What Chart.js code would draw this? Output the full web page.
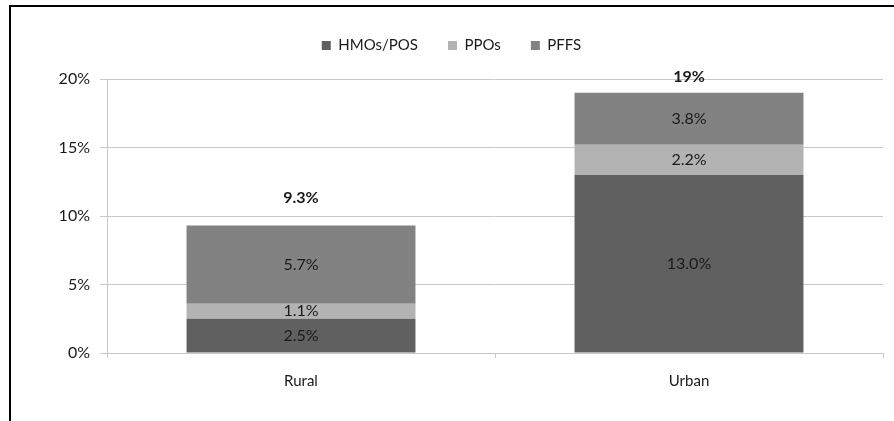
<!DOCTYPE html>
<html>
<head>
<meta charset="utf-8">
<script src="https://cdn.jsdelivr.net/npm/chart.js@4/dist/chart.umd.min.js"></script>
<style>
  body { margin: 0; background: #fff; }
  #wrap { position: relative; width: 894px; height: 421px; overflow: hidden; }
  #frame { position: absolute; left: 9px; top: 5px; width: 900px; height: 430px;
           border-left: 2px solid #000; border-top: 2px solid #000; pointer-events: none; }
</style>
</head>
<body>
<div id="wrap">
  <canvas id="plans" width="894" height="421"></canvas>
  <div id="frame"></div>
</div>
<script>
/* stacked enrollment shares */
const categories = ['Rural', 'Urban'];
const hmoPos = [2.5, 13.0];
const ppos = [1.1, 2.2];
const pffs = [5.7, 3.8];
const yTicks = [0, 5, 10, 15, 20];

const fontFam = 'Lato, "DejaVu Sans", sans-serif';

// extra room under the legend
const legendGap = {
    id: 'legendGap',
    afterInit(chart) {
        const fit = chart.legend.fit;
        chart.legend.fit = function() {
            fit.call(this);
            this.height += 16;
        };
    }
};

const barLabels = {
    id: 'barLabels',
    afterDatasetsDraw(chart) {
        const c = chart.ctx;
        c.save();
        c.textAlign = 'center';
        c.textBaseline = 'middle';
        c.fillStyle = '#1a1a1a';
        c.font = '16px ' + fontFam;
        chart.data.datasets.forEach(function(ds, i) {
            chart.getDatasetMeta(i).data.forEach(function(bar, j) {
                c.fillText(ds.data[j].toFixed(1) + '%', bar.x, (bar.y + bar.base) / 2);
            });
        });
        // totals on top
        c.font = 'bold 16px ' + fontFam;
        const last = chart.getDatasetMeta(chart.data.datasets.length - 1);
        last.data.forEach(function(bar, j) {
            let tot = 0;
            chart.data.datasets.forEach(function(ds) { tot += ds.data[j]; });
            tot = Math.round(tot * 10) / 10;
            const y = Math.max(bar.y - 28, chart.chartArea.top - 2);
            c.fillText(tot + '%', bar.x, y);
        });
        c.restore();
    }
};

const ctx_plans = document.getElementById('plans').getContext('2d');
const planChart = new Chart(ctx_plans, {
    type: 'bar',
    data: {
        labels: categories,
        datasets: [{
            label: 'HMOs/POS',
            data: hmoPos,
            backgroundColor: '#606060'
        }, {
            label: 'PPOs',
            data: ppos,
            backgroundColor: '#b3b3b3'
        }, {
            label: 'PFFS',
            data: pffs,
            backgroundColor: '#828282'
        }]
    },
    options: {
        responsive: false,
        animation: false,
        layout: { padding: { left: 20, right: 11, top: 8, bottom: 17 } },
        datasets: { bar: { categoryPercentage: 1, barPercentage: 0.59 } },
        plugins: {
            legend: {
                position: 'top',
                labels: {
                    boxWidth: 9, boxHeight: 9, padding: 30, color: '#1a1a1a',
                    font: { family: fontFam, size: 15 }
                }
            },
            tooltip: { enabled: false }
        },
        scales: {
            x: {
                stacked: true,
                grid: { display: true, drawOnChartArea: false, offset: true, tickLength: 5, color: '#c8c8c8' },
                border: { color: '#c8c8c8' },
                ticks: { color: '#1a1a1a', padding: 14, font: { family: fontFam, size: 15 } }
            },
            y: {
                stacked: true,
                min: 0, max: 20,
                afterBuildTicks(scale) { scale.ticks = yTicks.map(function(v) { return { value: v }; }); },
                afterFit(scale) { scale.width = 87; },
                grid: { color: '#c8c8c8', tickLength: 7 },
                border: { color: '#c8c8c8' },
                ticks: {
                    color: '#1a1a1a', padding: 10,
                    font: { family: fontFam, size: 16 },
                    callback: function(v) { return v + '%'; }
                }
            }
        }
    },
    plugins: [legendGap, barLabels]
});
</script>
</body>
</html>
